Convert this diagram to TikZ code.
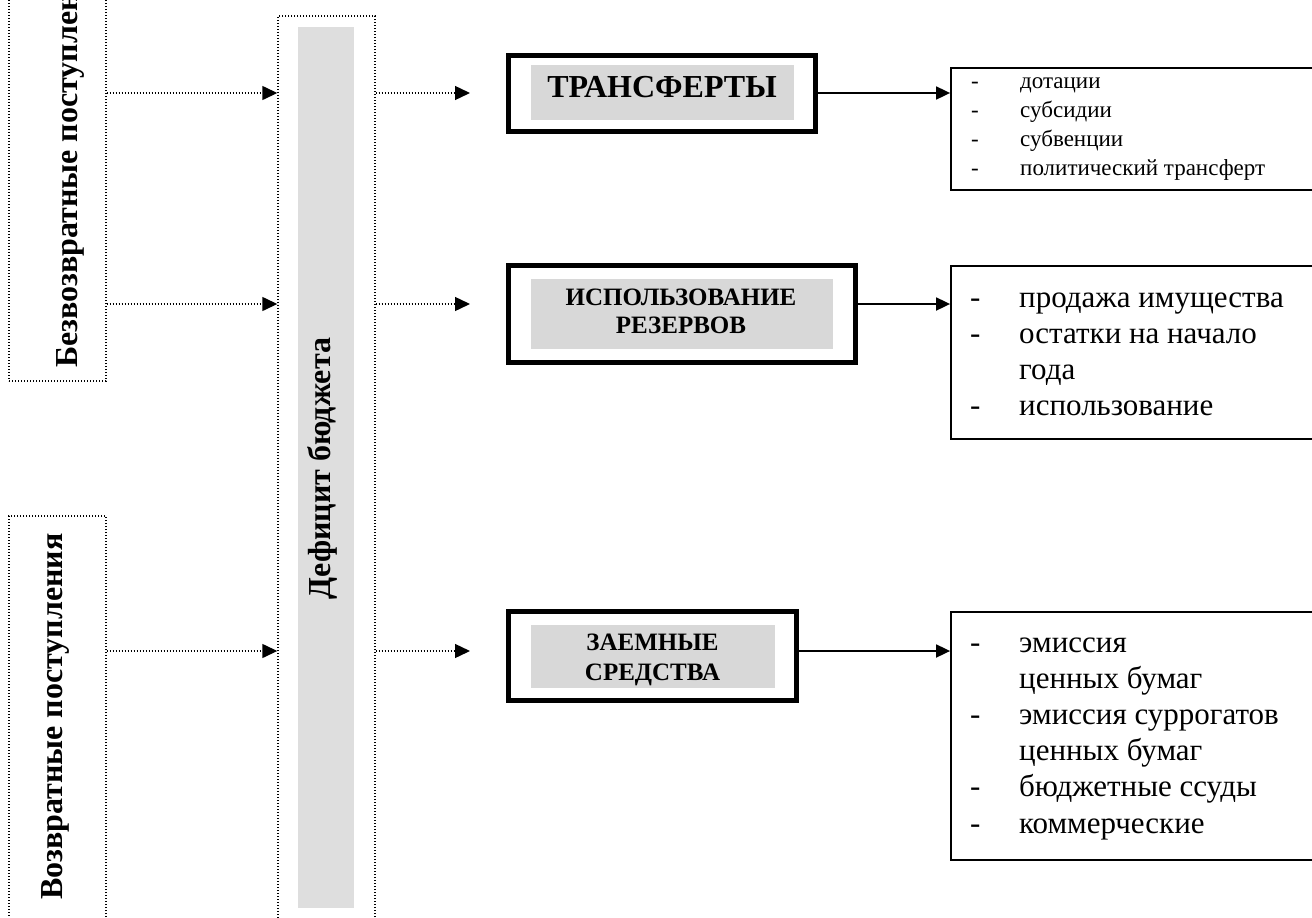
\documentclass[tikz,border=0pt]{standalone}
\usepackage{fontspec}
\setmainfont{Liberation Serif}
\usetikzlibrary{arrows.meta}
\definecolor{colgrey}{HTML}{DEDEDE}
\definecolor{boxgrey}{HTML}{D8D8D8}
\tikzset{
 dotbox/.style={draw, line width=1.4pt, dash pattern=on 1.4pt off 1.6pt, inner sep=0pt},
 thickbox/.style={draw, line width=5pt, inner sep=0pt},
 greyfill/.style={fill=boxgrey, inner sep=0pt},
 boxtext/.style={inner sep=0pt, anchor=base, font=\bfseries},
 listbox/.style={draw, line width=1.8pt, inner sep=0pt},
 listtext/.style={inner sep=0pt, anchor=base west},
 dotarrow/.style={line width=1.4pt, dash pattern=on 1.4pt off 1.6pt, -{Triangle[length=15pt,width=14pt]}},
 solidarrow/.style={line width=1.8pt, -{Triangle[length=14pt,width=13pt]}},
 sidetext/.style={rotate=90, anchor=base west, inner sep=0pt, font=\fontsize{32}{38}\selectfont\bfseries},
}
\newcommand{\dashitem}[2]{\makebox[#1][l]{-}#2}
\begin{document}
\begin{tikzpicture}[x=1pt,y=-1pt]
\clip (0,0) rectangle (1312,918);
% row coordinates
\coordinate (r1) at (0,93);
\coordinate (r2) at (0,304);
\coordinate (r3) at (0,651);
% left boxes
\node[dotbox, minimum width=97pt, minimum height=401pt] (bez) at (57.5,180.5) {};
\node[sidetext] (bezt) at (77,368) {Безвозвратные поступления};
\node[dotbox, minimum width=97pt, minimum height=424pt] (voz) at (57.5,728) {};
\node[sidetext] (vozt) at (62,900) {Возвратные поступления};
% middle column
\node[dotbox, minimum width=97pt, minimum height=924pt] (def) at (326.5,478) {};
\node[fill=colgrey, inner sep=0pt, minimum width=56pt, minimum height=881pt] (defg) at (326,467.5) {};
\node[sidetext] (deft) at (330,600) {Дефицит бюджета};
% category boxes
\node[thickbox, minimum width=307pt, minimum height=76pt] (tr) at (662,93.5) {};
\node[greyfill, minimum width=263pt, minimum height=55pt] (trg) at (662.5,92.5) {};
\node[boxtext, font=\fontsize{32}{38}\selectfont\bfseries] (trt) at (662,97) {ТРАНСФЕРТЫ};

\node[thickbox, minimum width=347pt, minimum height=97pt] (isp) at (682,314) {};
\node[greyfill, minimum width=302pt, minimum height=70pt] (ispg) at (682,314) {};
\node[boxtext, font=\fontsize{25}{28}\selectfont\bfseries] (ispt) at (681,305)
  {\begin{tabular}[t]{@{}c@{}}ИСПОЛЬЗОВАНИЕ\\РЕЗЕРВОВ\end{tabular}};

\node[thickbox, minimum width=288pt, minimum height=89pt] (zaem) at (652.5,656) {};
\node[greyfill, minimum width=244pt, minimum height=63pt] (zaemg) at (653,656.5) {};
\node[boxtext, font=\fontsize{25}{30}\selectfont\bfseries] (zaemt) at (652.5,650)
  {\begin{tabular}[t]{@{}c@{}}ЗАЕМНЫЕ\\СРЕДСТВА\end{tabular}};
% list boxes
\node[listbox, minimum width=380pt, minimum height=122pt] (l1) at (1141,129) {};
\node[listtext, font=\fontsize{23}{29}\selectfont] (l1t) at (971,88)
  {\begin{tabular}[t]{@{}l@{}}\dashitem{49pt}{дотации}\\\dashitem{49pt}{субсидии}\\\dashitem{49pt}{субвенции}\\\dashitem{49pt}{политический трансферт}\end{tabular}};
\node[listbox, minimum width=380pt, minimum height=173pt] (l2) at (1141,352.5) {};
\node[listtext, font=\fontsize{31}{36}\selectfont] (l2t) at (970,307)
  {\begin{tabular}[t]{@{}l@{}}\dashitem{49pt}{продажа имущества}\\\dashitem{49pt}{остатки на начало}\\\hspace*{49pt}года\\\dashitem{49pt}{использование}\end{tabular}};
\node[listbox, minimum width=380pt, minimum height=248pt] (l3) at (1141,736) {};
\node[listtext, font=\fontsize{31}{36.2}\selectfont] (l3t) at (970,652)
  {\begin{tabular}[t]{@{}l@{}}\dashitem{49pt}{эмиссия}\\\hspace*{49pt}ценных бумаг\\\dashitem{49pt}{эмиссия суррогатов}\\\hspace*{49pt}ценных бумаг\\\dashitem{49pt}{бюджетные ссуды}\\\dashitem{49pt}{коммерческие}\end{tabular}};
% connectors
\draw[dotarrow] (bez.east |- r1) -- (def.west |- r1);
\draw[dotarrow] (bez.east |- r2) -- (def.west |- r2);
\draw[dotarrow] (voz.east |- r3) -- (def.west |- r3);
\draw[dotarrow, shorten >=36pt] (def.east |- r1) -- (tr.west |- r1);
\draw[dotarrow, shorten >=36pt] (def.east |- r2) -- (isp.west |- r2);
\draw[dotarrow, shorten >=36pt] (def.east |- r3) -- (zaem.west |- r3);
\draw[solidarrow] (tr.east |- r1) -- (l1.west |- r1);
\draw[solidarrow] (isp.east |- r2) -- (l2.west |- r2);
\draw[solidarrow] (zaem.east |- r3) -- (l3.west |- r3);
\end{tikzpicture}
\end{document}
